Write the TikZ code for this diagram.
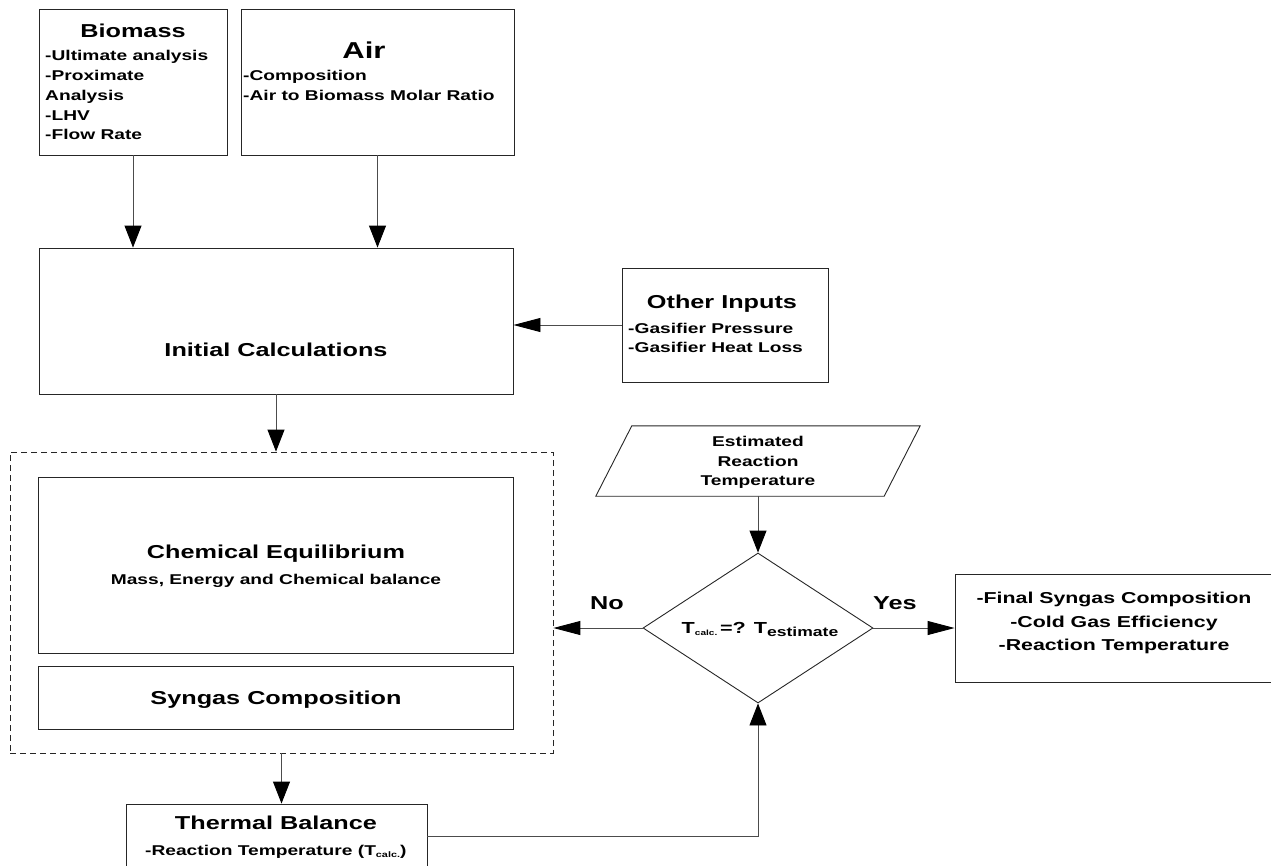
\documentclass[tikz,border=0pt]{standalone}
\usepackage{fontspec}
\setmainfont{Liberation Sans}[FakeStretch=1.35]
\usetikzlibrary{arrows.meta,fit,shapes.geometric}
\newcommand\fsT{\fontsize{18.7}{22}\selectfont\bfseries}
\newcommand\fsB{\fontsize{14.2}{17}\selectfont\bfseries}
\newcommand\fsR{\fontsize{15.8}{19}\selectfont\bfseries}
\newcommand\mysub[3]{\raisebox{-#1}{\fontsize{#2}{#2}\selectfont\bfseries #3}}
\begin{document}
\begin{tikzpicture}[x=1pt,y=-1pt,
  box/.style={draw=black!85, line width=0.9pt, inner sep=0pt},
  grpbox/.style={draw=black!85, line width=0.8pt, inner sep=0pt, dash pattern=on 6pt off 4pt},
  txt/.style={inner sep=0pt, anchor=base},
  txtl/.style={inner sep=0pt, anchor=base west},
  conn/.style={draw=black!70, line width=0.9pt},
  va/.style={conn, -{Triangle[length=22pt,width=17pt,color=black]}},
  ha/.style={conn, -{Triangle[length=27pt,width=14pt,color=black]}},
]
\useasboundingbox (0,0) rectangle (1271,865);
% boxes
\node[box, fit={(39,9) (227,155)}] (bio) {};
\node[box, fit={(241,9) (514,155)}] (air) {};
\node[box, fit={(39,248) (513,394)}] (init) {};
\node[box, fit={(622,268) (828,382)}] (oth) {};
\node[grpbox, fit={(10,452) (553,753)}] (grp) {};
\node[box, fit={(38,477) (513,653)}] (chem) {};
\node[box, fit={(38,666) (513,729)}] (syn) {};
\node[box, fit={(126,804) (427,868)}] (therm) {};
\node[box, fit={(955,574) (1285,682)}] (fin) {};
\node[box, diamond, minimum width=230pt, minimum height=150pt] (dia) at (758,628) {};
\node[inner sep=0pt, fit={(596,426) (920,496)}] (est) {};
\draw[box] (est.south west) -- ([xshift=36pt]est.north west) -- (est.north east) -- ([xshift=-36pt]est.south east) -- cycle;
% connectors
\draw[va] (bio.south) -- (bio.south |- init.north);
\draw[va] (air.south) -- (air.south |- init.north);
\draw[ha] (oth.west) -- (oth.west -| init.east);
\draw[va] (init.south) -- (init.south |- grp.north);
\draw[va] (grp.south) -- (grp.south |- therm.north);
\draw[va] (therm.east) -| (dia.south);
\draw[va] (est.south) -- (dia.north);
\draw[ha] (dia.west) -- (dia.west -| grp.east);
\draw[ha] (dia.east) -- (dia.east -| fin.west);
% texts
\node[txt] (tbio) at (133,37) {\fsT Biomass};
\node[txtl] (b1) at (45,60) {\fsB -Ultimate analysis};
\node[txtl] (b2) at (45,80) {\fsB -Proximate};
\node[txtl] (b3) at (45,100) {\fsB Analysis};
\node[txtl] (b4) at (45,120) {\fsB -LHV};
\node[txtl] (b5) at (45,139) {\fsB -Flow Rate};
\node[txt] (tair) at (364,58) {\fontsize{23}{25}\selectfont\bfseries Air};
\node[txtl] (a1) at (243,80) {\fsB -Composition};
\node[txtl] (a2) at (243,100) {\fsB -Air to Biomass Molar Ratio};
\node[txt] (tinit) at (276,356) {\fsT Initial Calculations};
\node[txt] (toth) at (722,308) {\fsT Other Inputs};
\node[txtl] (o1) at (628,333) {\fsB -Gasifier Pressure};
\node[txtl] (o2) at (628,352) {\fsB -Gasifier Heat Loss};
\node[txt] (tchem) at (276,558) {\fsT Chemical Equilibrium};
\node[txt] (chem1) at (276,584) {\fsB Mass, Energy and Chemical balance};
\node[txt] (tsyn) at (276,704) {\fsT Syngas Composition};
\node[txt] (ttherm) at (276,829) {\fsT Thermal Balance};
\node[txtl] (th1) at (145,855) {\fsB -Reaction Temperature (T\mysub{2pt}{8}{calc.})};
\node[txt] (e1) at (758,446) {\fsB Estimated};
\node[txt] (e2) at (758,466) {\fsB Reaction};
\node[txt] (e3) at (758,485) {\fsB Temperature};
\node[txt] (tdia) at (760,633) {\fontsize{16}{20}\selectfont\bfseries T\mysub{2pt}{7.5}{calc.}\,=? T\mysub{3pt}{13}{estimate}};
\node[txt] (tno) at (607,609) {\fsT No};
\node[txt] (tyes) at (895,609) {\fsT Yes};
\node[txt] (f1) at (1114,603) {\fsR -Final Syngas Composition};
\node[txt] (f2) at (1114,627) {\fsR -Cold Gas Efficiency};
\node[txt] (f3) at (1114,650) {\fsR -Reaction Temperature};
\end{tikzpicture}
\end{document}
